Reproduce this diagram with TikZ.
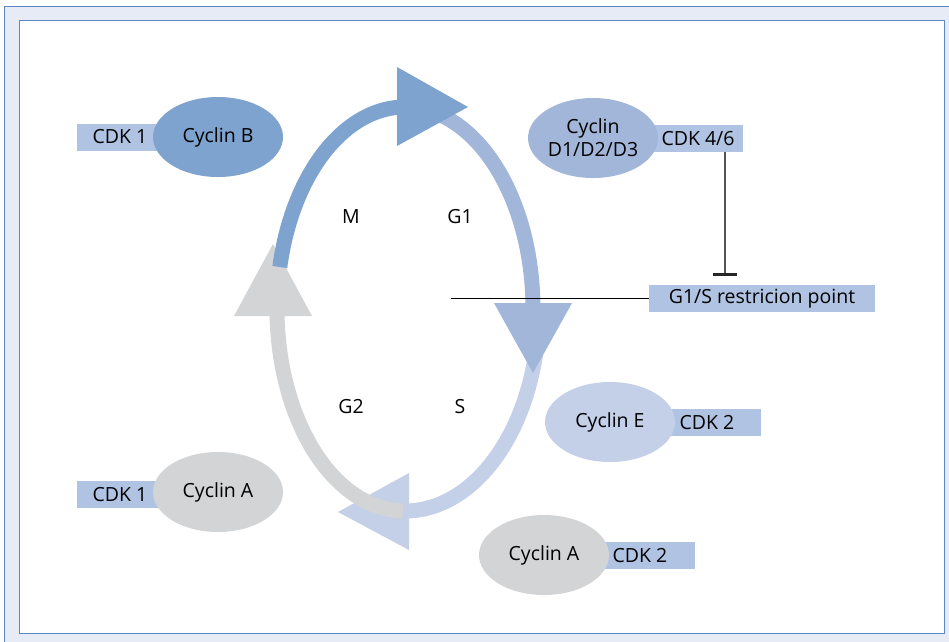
\documentclass[tikz,border=0pt]{standalone}
\usepackage{fontspec}
\setmainfont{Open Sans}
\usetikzlibrary{shapes.geometric}
\definecolor{frameblue}{HTML}{5B87C5}
\definecolor{framefill}{HTML}{E6EBF5}
\definecolor{cM}{HTML}{7FA3CF}
\definecolor{cG}{HTML}{A1B6D9}
\definecolor{cS}{HTML}{C3D0E8}
\definecolor{cGray}{HTML}{D3D4D6}
\definecolor{cdkc}{HTML}{B0C3E3}
\definecolor{inhib}{HTML}{555555}
\begin{document}
\begin{tikzpicture}[x=1pt,y=-1pt,
  txt/.style={font=\fontsize{19.5}{22}\selectfont, text=black},
  cdk/.style={txt, fill=cdkc, minimum height=27pt, inner sep=0pt},
  cyc/.style={txt, ellipse, minimum width=130pt, minimum height=80pt, inner sep=0pt, align=center},
  band/.style={line width=15pt, line cap=butt},
  phase/.style={txt}]
\useasboundingbox (0,0) rectangle (949,641);
% frame
\draw[frameblue, fill=framefill, line width=1pt] (4,6) rectangle (960,650);
\draw[frameblue, fill=white, line width=1pt] (19,20) rectangle (944,633);
% cycle: S band and arrow
\draw[band, cS] plot[domain=-10:-90, samples=50] ({405+134*cos(\x)},{309-202*sin(\x)});
\fill[cS] (409,473) -- (409,550) -- (338,512) -- cycle;
% G1 band and arrow
\draw[band, cG] plot[domain=80:-2, samples=50] ({405+128*cos(\x)},{309-202*sin(\x)});
% restriction line
\node[cdk, minimum width=226pt] (rp) at (762,298.5) {G1/S restricion point};
\coordinate (rl) at (451,298.5);
\draw[black, line width=0.9pt] (rl) -- (rp.west);
\fill[cG] (494,303) -- (572,303) -- (533,373) -- cycle;
% G2 band and arrow
\draw[band, cGray] plot[domain=-91:-182, samples=60] ({405+128*cos(\x)},{309-202*sin(\x)});
\fill[cGray] (234,316) -- (312,316) -- (273,244) -- cycle;
% M band and arrow
\draw[band, cM] plot[domain=168:92, samples=50] ({405+128*cos(\x)},{309-202*sin(\x)});
\fill[cM] (397,67) -- (397,146) -- (468,107) -- cycle;
% phase labels
\node[phase] (m) at (351,217) {M};
\node[phase] (g1) at (460,217) {G1};
\node[phase] (g2) at (351,407) {G2};
\node[phase] (s) at (460,407) {S};
% complexes
\node[cdk, minimum width=86pt] (cdk1b) at (120,137) {CDK 1};
\node[cyc, fill=cM] (cycb) at (218,137) {Cyclin B};
\node[cdk, minimum width=90pt] (cdk46) at (698,138.5) {CDK 4/6};
\node[cyc, fill=cG] (cycd) at (593,138) {Cyclin\\[1pt]D1/D2/D3};
\node[cdk, minimum width=108pt] (cdk2e) at (707,422.5) {CDK 2};
\node[cyc, fill=cS] (cyce) at (610,422) {Cyclin E};
\node[cdk, minimum width=86pt] (cdk1a) at (120,494.5) {CDK 1};
\node[cyc, fill=cGray] (cycal) at (218,492) {Cyclin A};
\node[cdk, minimum width=110pt] (cdk2a) at (640,555.5) {CDK 2};
\node[cyc, fill=cGray] (cycar) at (544,555) {Cyclin A};
% inhibition
\coordinate (bar) at (725,274);
\draw[inhib, line width=1.4pt] (cdk46.south -| bar) -- (bar);
\draw[black!85, line width=3pt] ([xshift=-12pt]bar) -- ([xshift=12pt]bar);
\end{tikzpicture}
\end{document}
